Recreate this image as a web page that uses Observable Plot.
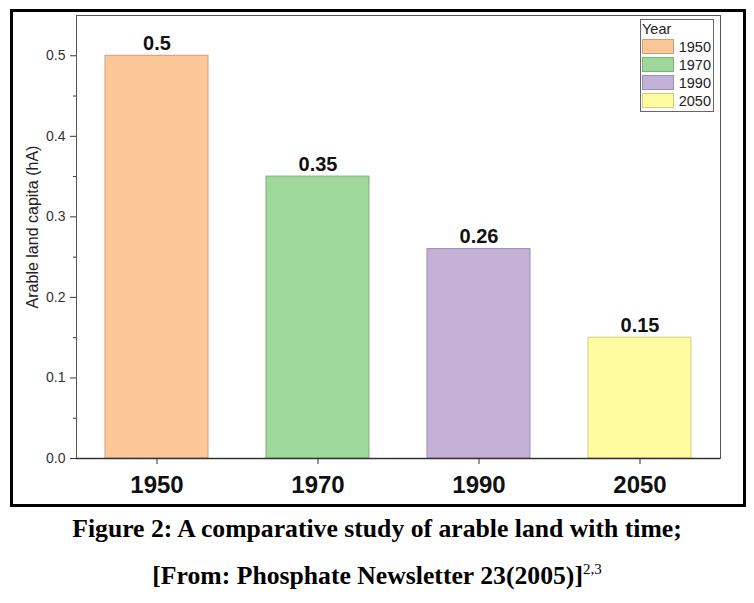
<!DOCTYPE html>
<html>
<head>
<meta charset="utf-8">
<script src="https://cdn.jsdelivr.net/npm/d3@7"></script>
<script src="https://cdn.jsdelivr.net/npm/@observablehq/plot@0.6"></script>
<style>
  html, body { margin: 0; padding: 0; background: #fff; }
  #fig { position: absolute; left: 10px; top: 9px; width: 730px; height: 492px; border: 3px solid #000; }
  #fig svg { display: block; }
  #legend { position: absolute; left: 627px; top: 7px; width: 72px; height: 91px; border: 1px solid #666;
            font-family: Arial, "Liberation Sans", sans-serif; font-size: 14.5px; color: #222; background: #fff; }
  #legend .title { position: absolute; left: 1px; top: 1px; line-height: 16px; }
  #legend .row { position: absolute; left: 1px; width: 70px; height: 16px; }
  #legend .sw { position: absolute; left: 0; top: 0; width: 32px; height: 15px; box-sizing: border-box; }
  #legend .lab { position: absolute; right: 1px; top: 0; line-height: 16px; }
  #caption { position: absolute; left: 0; top: 0; width: 754px; font-family: "Liberation Serif", "Times New Roman", serif;
             font-weight: bold; font-size: 25.7px; color: #000; text-align: center; }
  #caption div { position: absolute; width: 754px; left: 0; }
  sup { font-weight: normal; font-size: 15px; }
</style>
</head>
<body>
<div id="fig"></div>
<div id="caption">
  <div style="top:514px;">Figure 2: A comparative study of arable land with time;</div>
  <div style="top:561px;">[From: Phosphate Newsletter 23(2005)]<sup>2,3</sup></div>
</div>
<script>
const years = ["1950", "1970", "1990", "2050"];
const values = [0.5, 0.35, 0.26, 0.15];
const labels = ["0.5", "0.35", "0.26", "0.15"];
const fills = ["#fdc697", "#9fd89b", "#c3b1d8", "#fffca0"];
const strokes = ["#c9a07c", "#7fb07c", "#9c8fb0", "#d0ce80"];
const yTicks = [0, 0.1, 0.2, 0.3, 0.4, 0.5];
const yMinorTicks = [0.05, 0.15, 0.25, 0.35, 0.45];
const legendTitle = "Year";
const yLabel = "Arable land capita (hA)";

const data = years.map((y, i) => ({year: y, value: values[i], label: labels[i]}));

const chart = Plot.plot({
  width: 730,
  height: 492,
  marginLeft: 63,
  marginRight: 23,
  marginTop: 3,
  marginBottom: 46,
  style: {fontFamily: "Arial, 'Liberation Sans', sans-serif", background: "#fff"},
  x: {domain: years, paddingInner: 0.36, paddingOuter: 0.18},
  y: {domain: [0, 0.55]},
  color: {domain: years, range: fills},
  marks: [
    Plot.barY(data, {x: "year", y: "value", fill: "year", stroke: (d, i) => strokes[i], strokeWidth: 1}),
    Plot.text(data, {x: "year", y: "value", text: "label", dy: -12, fontSize: 20, fontWeight: "bold", fill: "#111"}),
    Plot.frame({stroke: "#555", strokeWidth: 1}),
    Plot.ruleX([0], {frameAnchor: "left", stroke: "#333", strokeWidth: 1.3}),
    Plot.ruleY([0], {stroke: "#333", strokeWidth: 1.3}),
    Plot.axisY({ticks: yTicks, tickFormat: d3.format(".1f"), tickSize: 6, tickPadding: 5, fontSize: 14, fill: "#333", stroke: "#333", label: null}),
    Plot.axisY({ticks: yMinorTicks, text: null, tickSize: 3, stroke: "#333", label: null}),
    Plot.text([yLabel], {frameAnchor: "left", textAnchor: "middle", rotate: -90, dx: -44, dy: -10, fontSize: 16, fill: "#222"}),
    Plot.axisX({tickSize: 6, tickPadding: 11, fontSize: 24, fontWeight: "bold", fill: "#111", stroke: "#333", label: null})
  ]
});
document.getElementById("fig").appendChild(chart);

const leg = document.createElement("div");
leg.id = "legend";
const t = document.createElement("div");
t.className = "title";
t.textContent = legendTitle;
leg.appendChild(t);
years.forEach((y, i) => {
  const row = document.createElement("div");
  row.className = "row";
  row.style.top = (19 + i * 18) + "px";
  const sw = document.createElement("div");
  sw.className = "sw";
  sw.style.background = fills[i];
  sw.style.border = "1px solid " + strokes[i];
  const lab = document.createElement("div");
  lab.className = "lab";
  lab.textContent = y;
  row.appendChild(sw);
  row.appendChild(lab);
  leg.appendChild(row);
});
document.getElementById("fig").appendChild(leg);
</script>
</body>
</html>
